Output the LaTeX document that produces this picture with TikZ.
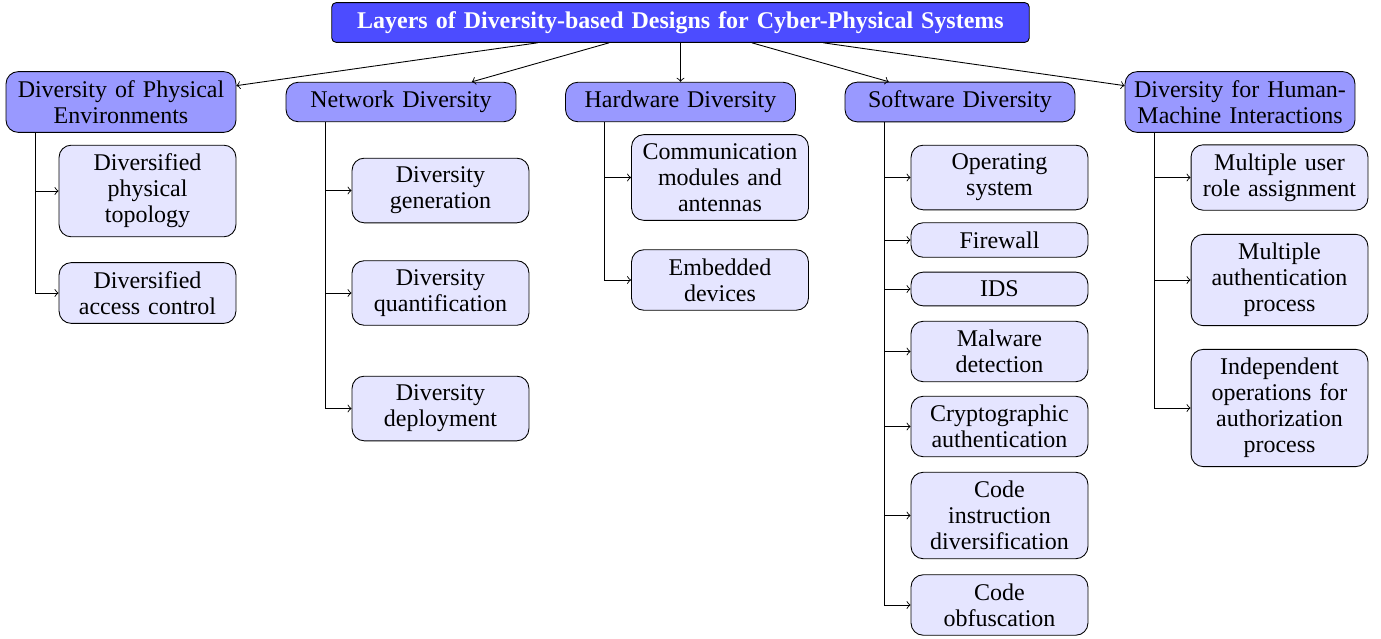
\documentclass[tikz,border=0pt]{standalone}
\usepackage{fontspec}
\setmainfont{Liberation Serif}
\usepackage{tikz}
\usepackage{xcolor}

\begin{document}
\begin{tikzpicture}[
        x=0.4545pt, y=-0.4545pt,
        font=\fontsize{10.9}{11.8}\selectfont,
        title/.style={rectangle, draw, fill=blue!70, text=white, font=\fontsize{10.9}{11.8}\selectfont\bfseries, text width=309pt, text centered, rounded corners=2pt, inner sep=4pt},
        layer/.style={rectangle, draw, fill=blue!40, text width=96.5pt, text centered, rounded corners=5.5pt, inner sep=4pt},
        item/.style={rectangle, draw, fill=blue!10, text width=72.4pt, text centered, rounded corners=5.5pt, inner sep=4pt},
        arrow/.style={->},
        branch/.style={->}
    ]
        \useasboundingbox (0,0) rectangle (1381,639);

        % Title
        \node[title] (cps) at (680.5,22.5) {Layers of Diversity-based Designs for Cyber-Physical Systems};

        % Layers
        \node[layer] (phys) at (121,102) {Diversity of Physical\\Environments};
        \node[layer] (net) at (401,102) {Network Diversity};
        \node[layer] (hw) at (680.5,102) {Hardware Diversity};
        \node[layer] (sw) at (960,102) {Software Diversity};
        \node[layer] (hmi) at (1240,102) {Diversity for Human-\\Machine Interactions};

        % Physical environments
        \node[item] (topo) at (147.5,191) {Diversified\\physical\\topology};
        \node[item] (access) at (147.5,293) {Diversified\\access control};

        % Network
        \node[item] (gen) at (440.5,190.5) {Diversity\\generation};
        \node[item] (quant) at (440.5,293) {Diversity\\quantification};
        \node[item] (deploy) at (440.5,408.5) {Diversity\\deployment};

        % Hardware
        \node[item] (comm) at (720,177.5) {Communication\\modules and\\antennas};
        \node[item] (embed) at (720,280) {Embedded\\devices};

        % Software
        \node[item] (os) at (999.5,177.5) {Operating\\system};
        \node[item] (fw) at (999.5,240) {Firewall};
        \node[item] (ids) at (999.5,289) {IDS};
        \node[item] (malware) at (999.5,351.5) {Malware\\detection};
        \node[item] (crypto) at (999.5,426.5) {Cryptographic\\authentication};
        \node[item] (codeins) at (999.5,515.5) {Code\\instruction\\diversification};
        \node[item] (obfus) at (999.5,605) {Code\\obfuscation};

        % Human-machine interactions
        \node[item] (role) at (1279.5,177.5) {Multiple user\\role assignment};
        \node[item] (auth) at (1279.5,280) {Multiple\\authentication\\process};
        \node[item] (indep) at (1279.5,408) {Independent\\operations for\\authorization\\process};

        % Arrows
        \draw[arrow] (cps) -- (phys);
        \draw[arrow] (cps) -- (net);
        \draw[arrow] (cps) -- (hw);
        \draw[arrow] (cps) -- (sw);
        \draw[arrow] (cps) -- (hmi);

        \draw[branch] ([xshift=13.6pt]phys.south west) |- (topo.west);
        \draw[branch] ([xshift=13.6pt]phys.south west) |- (access.west);

        \draw[branch] ([xshift=18.2pt]net.south west) |- (gen.west);
        \draw[branch] ([xshift=18.2pt]net.south west) |- (quant.west);
        \draw[branch] ([xshift=18.2pt]net.south west) |- (deploy.west);

        \draw[branch] ([xshift=17.7pt]hw.south west) |- (comm.west);
        \draw[branch] ([xshift=17.7pt]hw.south west) |- (embed.west);

        \draw[branch] ([xshift=18.2pt]sw.south west) |- (os.west);
        \draw[branch] ([xshift=18.2pt]sw.south west) |- (fw.west);
        \draw[branch] ([xshift=18.2pt]sw.south west) |- (ids.west);
        \draw[branch] ([xshift=18.2pt]sw.south west) |- (malware.west);
        \draw[branch] ([xshift=18.2pt]sw.south west) |- (crypto.west);
        \draw[branch] ([xshift=18.2pt]sw.south west) |- (codeins.west);
        \draw[branch] ([xshift=18.2pt]sw.south west) |- (obfus.west);

        \draw[branch] ([xshift=13.6pt]hmi.south west) |- (role.west);
        \draw[branch] ([xshift=13.6pt]hmi.south west) |- (auth.west);
        \draw[branch] ([xshift=13.6pt]hmi.south west) |- (indep.west);
    \end{tikzpicture}
\end{document}
